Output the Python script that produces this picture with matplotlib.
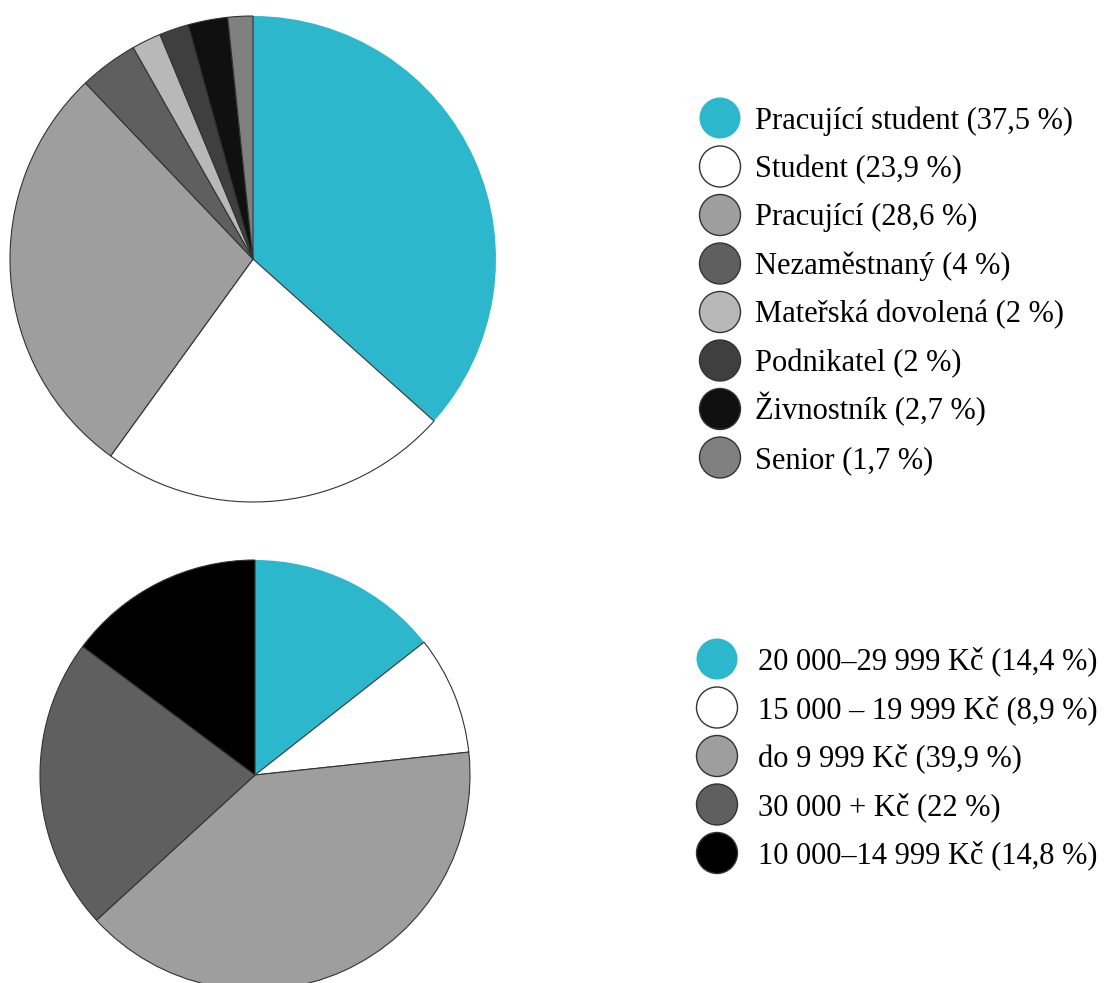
import matplotlib.pyplot as plt
from matplotlib.patches import Circle

# data
status_labels = ['Pracující student', 'Student', 'Pracující', 'Nezaměstnaný',
                 'Mateřská dovolená', 'Podnikatel', 'Živnostník', 'Senior']
status_values = [37.5, 23.9, 28.6, 4, 2, 2, 2.7, 1.7]
status_texts = ['37,5', '23,9', '28,6', '4', '2', '2', '2,7', '1,7']

income_labels = ['20 000–29 999 Kč', '15 000 – 19 999 Kč', 'do 9 999 Kč',
                 '30 000 + Kč', '10 000–14 999 Kč']
income_values = [14.4, 8.9, 39.9, 22, 14.8]
income_texts = ['14,4', '8,9', '39,9', '22', '14,8']

status_colors = ['#2db7cc', '#ffffff', '#9e9e9e', '#5f5f5f',
                 '#b8b8b8', '#3f3f3f', '#101010', '#808080']
income_colors = ['#2db7cc', '#ffffff', '#9e9e9e', '#5f5f5f', '#000000']

plt.rcParams['font.family'] = ['Liberation Serif', 'DejaVu Serif']

W, H = 1107, 983
fig = plt.figure(figsize=(W / 100, H / 100), dpi=100)
ax = fig.add_axes([0, 0, 1, 1])
ax.set_xlim(0, W)
ax.set_ylim(0, H)
ax.set_aspect('equal')
ax.axis('off')


def draw_pie(values, colors, center, radius):
    wedges, _ = ax.pie(values, colors=colors, startangle=90, counterclock=False,
                       center=center, radius=radius,
                       wedgeprops=dict(edgecolor='#333333', linewidth=0.8))
    # cyan slice has no outline
    wedges[0].set_edgecolor('none')
    ax.set_xlim(0, W)
    ax.set_ylim(0, H)


def draw_legend(labels, texts, colors, x0, y0, step, tx):
    for i, (lab, t, c) in enumerate(zip(labels, texts, colors)):
        y = H - (y0 + i * step)
        ec = 'none' if i == 0 else '#333333'
        ax.add_patch(Circle((x0, y), 20.5, facecolor=c, edgecolor=ec, linewidth=1))
        ax.text(tx, y - 10.5, f'{lab} ({t} %)', fontsize=22, va='baseline', ha='left')


draw_pie(status_values, status_colors, (253, H - 259), 243)
draw_pie(income_values, income_colors, (255, H - 775), 215)

draw_legend(status_labels, status_texts, status_colors, 720, 118, 48.5, 755)
draw_legend(income_labels, income_texts, income_colors, 717, 659, 48.5, 758)

fig.savefig('out.png', dpi=100)
